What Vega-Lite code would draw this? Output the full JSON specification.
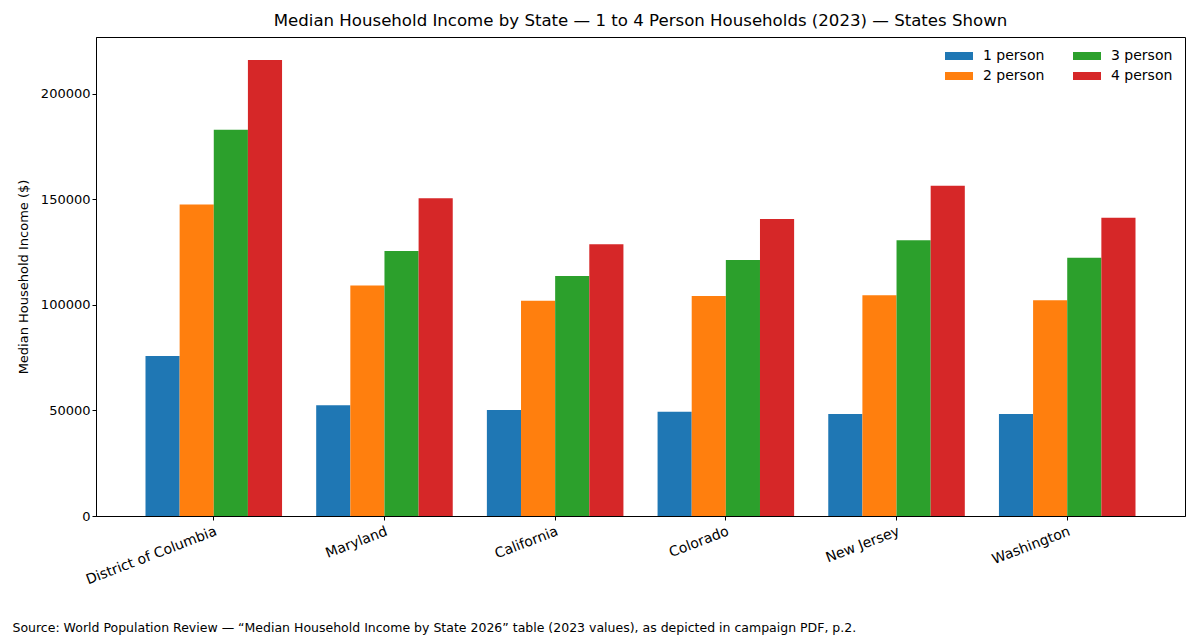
{
  "$schema": "https://vega.github.io/schema/vega-lite/v6.json",
  "width": 1089,
  "height": 479,
  "autosize": {"type": "none"},
  "padding": {"left": 96, "top": 37, "right": 15, "bottom": 124},
  "background": "white",
  "title": {
    "text": "Median Household Income by State — 1 to 4 Person Households (2023) — States Shown",
    "fontSize": 16.6,
    "font": "DejaVu Sans",
    "fontWeight": "normal",
    "color": "black",
    "anchor": "middle",
    "offset": 7
  },
  "config": {
    "font": "DejaVu Sans",
    "view": {"stroke": "black", "strokeWidth": 1}
  },
  "data": {
    "values": [
      {"state": "District of Columbia", "size": "1 person", "income": 75800},
      {"state": "District of Columbia", "size": "2 person", "income": 147600},
      {"state": "District of Columbia", "size": "3 person", "income": 183100},
      {"state": "District of Columbia", "size": "4 person", "income": 216100},
      {"state": "Maryland", "size": "1 person", "income": 52500},
      {"state": "Maryland", "size": "2 person", "income": 109200},
      {"state": "Maryland", "size": "3 person", "income": 125600},
      {"state": "Maryland", "size": "4 person", "income": 150600},
      {"state": "California", "size": "1 person", "income": 50200},
      {"state": "California", "size": "2 person", "income": 102000},
      {"state": "California", "size": "3 person", "income": 113700},
      {"state": "California", "size": "4 person", "income": 128800},
      {"state": "Colorado", "size": "1 person", "income": 49400},
      {"state": "Colorado", "size": "2 person", "income": 104300},
      {"state": "Colorado", "size": "3 person", "income": 121300},
      {"state": "Colorado", "size": "4 person", "income": 140800},
      {"state": "New Jersey", "size": "1 person", "income": 48300},
      {"state": "New Jersey", "size": "2 person", "income": 104600},
      {"state": "New Jersey", "size": "3 person", "income": 130700},
      {"state": "New Jersey", "size": "4 person", "income": 156500},
      {"state": "Washington", "size": "1 person", "income": 48300},
      {"state": "Washington", "size": "2 person", "income": 102200},
      {"state": "Washington", "size": "3 person", "income": 122400},
      {"state": "Washington", "size": "4 person", "income": 141400}
    ]
  },
  "mark": {"type": "bar"},
  "encoding": {
    "x": {
      "field": "state",
      "type": "nominal",
      "sort": ["District of Columbia", "Maryland", "California", "Colorado", "New Jersey", "Washington"],
      "scale": {"paddingInner": 0.2, "paddingOuter": 0.29},
      "axis": {
        "title": "Source: World Population Review — “Median Household Income by State 2026” table (2023 values), as depicted in campaign PDF, p.2.",
        "titleFontSize": 12.5,
        "titleFontWeight": "normal",
        "titleColor": "black",
        "titleAnchor": "start",
        "titleAlign": "left",
        "titleX": -84,
        "titleY": 111,
        "titleBaseline": "middle",
        "labelAngle": -21,
        "labelAlign": "right",
        "labelBaseline": "top",
        "labelFontSize": 14,
        "labelColor": "black",
        "labelPadding": 4,
        "tickSize": 4,
        "tickColor": "black",
        "domainColor": "black"
      }
    },
    "xOffset": {
      "field": "size",
      "type": "nominal",
      "sort": ["1 person", "2 person", "3 person", "4 person"],
      "scale": {"paddingInner": 0, "paddingOuter": 0}
    },
    "y": {
      "field": "income",
      "type": "quantitative",
      "scale": {"domain": [0, 227000], "nice": false},
      "axis": {
        "title": "Median Household Income ($)",
        "titleFontSize": 13,
        "titleFontWeight": "normal",
        "titleColor": "black",
        "titlePadding": 10,
        "values": [0, 50000, 100000, 150000, 200000],
        "format": "d",
        "grid": false,
        "labelFontSize": 13,
        "labelColor": "black",
        "tickSize": 4,
        "tickColor": "black",
        "domainColor": "black"
      }
    },
    "color": {
      "field": "size",
      "type": "nominal",
      "scale": {
        "domain": ["1 person", "2 person", "3 person", "4 person"],
        "range": ["#1f77b4", "#ff7f0e", "#2ca02c", "#d62728"]
      },
      "legend": {
        "title": null,
        "orient": "top-right",
        "columns": 2,
        "symbolType": "M-2,-0.57L2,-0.57L2,0.57L-2,0.57Z",
        "symbolSize": 196,
        "symbolStrokeWidth": 0,
        "labelFontSize": 14,
        "labelColor": "black",
        "columnPadding": 28,
        "rowPadding": 6,
        "labelOffset": 17,
        "offset": 12
      }
    }
  }
}
